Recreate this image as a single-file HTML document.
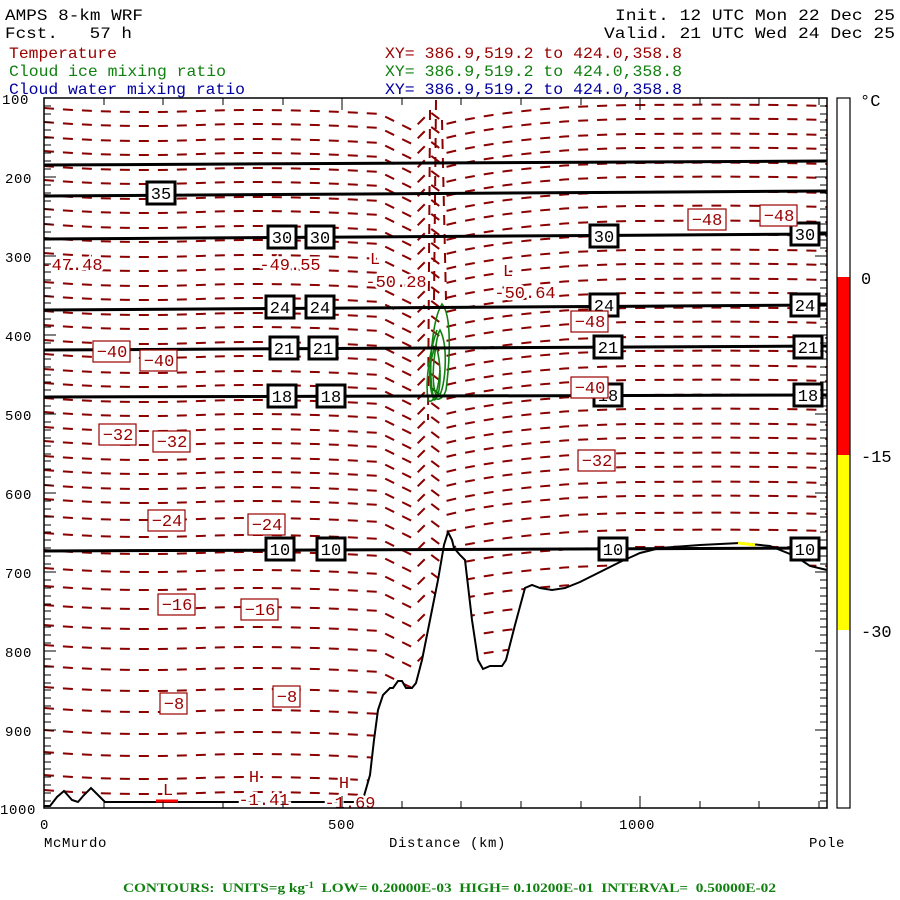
<!DOCTYPE html>
<html><head><meta charset="utf-8"><style>
html,body{margin:0;padding:0;background:#fff;}
svg{display:block;}
text{white-space:pre;}
.t{font-family:"Liberation Mono",monospace;font-size:16px;}
.a{font-family:"Liberation Mono",monospace;font-size:14px;letter-spacing:0.6px;}
.cb{font-family:"Liberation Mono",monospace;font-size:17px;}
.bl{font-family:"Liberation Mono",monospace;font-size:17px;}
.rl{font-family:"Liberation Mono",monospace;font-size:17px;fill:#9a0000;}
.hl{paint-order:stroke;stroke:#fff;stroke-width:5px;}
</style></head><body>
<svg width="900" height="900" viewBox="0 0 900 900" xmlns="http://www.w3.org/2000/svg" xml:space="preserve">
<defs>
<clipPath id="above">
<polygon points="44,98 827,98 827,570 810,566 795,556 770,546 740,543 700,545 660,548 640,553 620,562 600,572 580,582 565,588 552,590 540,588 532,585 525,588 515,625 506,660 502,666 490,666 483,669 478,660 472,620 465,560 460,555 454,548 452,540 448,532 444,545 438,580 430,620 422,660 416,683 412,688 406,688 402,681 398,681 393,688 390,688 383,695 378,710 374,740 370,775 364,796 358,802 105,802 98,795 91,788 84,795 78,802 72,800 64,791 57,797 50,806 44,806"/>
</clipPath>
<path id="c" d="M44,0 Q120,6 200,3 T380,6 L412,22 L430,4 L446,16 Q520,-2 640,-3 T827,-2" fill="none"/>
</defs>

<g class="t">
<text x="5" y="20" textLength="138" lengthAdjust="spacingAndGlyphs">AMPS 8-km WRF</text>
<text x="5" y="38" textLength="127" lengthAdjust="spacingAndGlyphs">Fcst.   57 h</text>
<text x="9" y="58" fill="#9a0000" textLength="108" lengthAdjust="spacingAndGlyphs">Temperature</text>
<text x="9" y="76" fill="#108010" textLength="217" lengthAdjust="spacingAndGlyphs">Cloud ice mixing ratio</text>
<text x="9" y="94" fill="#0000a0" textLength="236" lengthAdjust="spacingAndGlyphs">Cloud water mixing ratio</text>
<text x="615" y="20" textLength="280" lengthAdjust="spacingAndGlyphs">Init. 12 UTC Mon 22 Dec 25</text>
<text x="604" y="38" textLength="291" lengthAdjust="spacingAndGlyphs">Valid. 21 UTC Wed 24 Dec 25</text>
<text x="385" y="58" fill="#9a0000" textLength="297" lengthAdjust="spacingAndGlyphs">XY= 386.9,519.2 to 424.0,358.8</text>
<text x="385" y="76" fill="#108010" textLength="297" lengthAdjust="spacingAndGlyphs">XY= 386.9,519.2 to 424.0,358.8</text>
<text x="385" y="94" fill="#0000a0" textLength="297" lengthAdjust="spacingAndGlyphs">XY= 386.9,519.2 to 424.0,358.8</text>
</g>

<g clip-path="url(#above)" stroke="#8b0000" stroke-width="2" stroke-dasharray="10,9" fill="none">
<use href="#c" y="108"/><use href="#c" y="122"/><use href="#c" y="137"/><use href="#c" y="151"/>
<use href="#c" y="166"/><use href="#c" y="180"/><use href="#c" y="195"/><use href="#c" y="209"/>
<use href="#c" y="224"/><use href="#c" y="238"/><use href="#c" y="253"/><use href="#c" y="267"/>
<use href="#c" y="282"/><use href="#c" y="296"/><use href="#c" y="311"/><use href="#c" y="325"/>
<use href="#c" y="340"/><use href="#c" y="354"/><use href="#c" y="369"/><use href="#c" y="383"/>
<use href="#c" y="398"/><use href="#c" y="412"/><use href="#c" y="427"/><use href="#c" y="441"/>
<use href="#c" y="456"/><use href="#c" y="470"/><use href="#c" y="485"/><use href="#c" y="499"/>
<use href="#c" y="516"/><use href="#c" y="533"/><use href="#c" y="550"/><use href="#c" y="568"/>
<use href="#c" y="586"/><use href="#c" y="605"/><use href="#c" y="625"/><use href="#c" y="645"/>
<use href="#c" y="666"/><use href="#c" y="687"/><use href="#c" y="708"/><use href="#c" y="730"/>
<use href="#c" y="752"/><use href="#c" y="775"/><use href="#c" y="790"/>
<path d="M436,100 L434,300 M430,110 L428,420 M442,120 L446,300"/>
</g>

<g stroke="#108010" stroke-width="1.6" fill="none">
<path d="M442,304 C452,315 450,360 446,390 C443,400 436,402 433,395 C428,370 432,320 442,304 Z"/>
<path d="M440,330 C448,345 446,380 440,395 C434,400 432,380 434,360 C436,345 437,335 440,330 Z"/>
<path d="M436,345 C443,370 440,400 434,400 C428,385 428,362 436,345 Z"/>
<path d="M437,330 C430,350 425,380 428,400 C432,405 438,395 440,370"/>
</g>

<polyline fill="none" stroke="#000" stroke-width="2" points="827,570 810,566 795,556 770,546 740,543 700,545 660,548 640,553 620,562 600,572 580,582 565,588 552,590 540,588 532,585 525,588 515,625 506,660 502,666 490,666 483,669 478,660 472,620 465,560 460,555 454,548 452,540 448,532 444,545 438,580 430,620 422,660 416,683 412,688 406,688 402,681 398,681 393,688 390,688 383,695 378,710 374,740 370,775 364,796 358,802 105,802 98,795 91,788 84,795 78,802 72,800 64,791 57,797 50,806 44,806"/>
<line x1="156" y1="801" x2="178" y2="801" stroke="#f00" stroke-width="3"/>
<line x1="738" y1="543" x2="755" y2="545" stroke="#ff0" stroke-width="3"/>

<g stroke="#000" stroke-width="3" fill="none">
<line x1="44" y1="165" x2="827" y2="161"/>
<line x1="44" y1="196" x2="827" y2="191"/>
<line x1="44" y1="239" x2="827" y2="234"/>
<line x1="44" y1="310" x2="827" y2="305"/>
<line x1="44" y1="350" x2="827" y2="346"/>
<line x1="44" y1="397" x2="827" y2="395"/>
<line x1="44" y1="551" x2="827" y2="548"/>
</g>

<g class="bl" text-anchor="middle">
<g fill="#fff" stroke="#000" stroke-width="3">
<rect x="147" y="182" width="28" height="22"/>
<rect x="268" y="226" width="28" height="22"/><rect x="306" y="226" width="28" height="22"/><rect x="590" y="225" width="28" height="22"/><rect x="791" y="223" width="28" height="22"/>
<rect x="266" y="296" width="28" height="22"/><rect x="306" y="296" width="28" height="22"/><rect x="590" y="294" width="28" height="22"/><rect x="791" y="294" width="28" height="22"/>
<rect x="270" y="337" width="28" height="22"/><rect x="309" y="337" width="28" height="22"/><rect x="594" y="336" width="28" height="22"/><rect x="794" y="336" width="28" height="22"/>
<rect x="268" y="385" width="28" height="22"/><rect x="317" y="385" width="28" height="22"/><rect x="594" y="384" width="28" height="22"/><rect x="794" y="384" width="28" height="22"/>
<rect x="266" y="538" width="28" height="22"/><rect x="317" y="538" width="28" height="22"/><rect x="599" y="538" width="28" height="22"/><rect x="791" y="538" width="28" height="22"/>
</g>
<text x="161" y="199">35</text>
<text x="282" y="243">30</text><text x="320" y="243">30</text><text x="604" y="242">30</text><text x="805" y="240">30</text>
<text x="280" y="313">24</text><text x="320" y="313">24</text><text x="604" y="311">24</text><text x="805" y="311">24</text>
<text x="284" y="354">21</text><text x="323" y="354">21</text><text x="608" y="353">21</text><text x="808" y="353">21</text>
<text x="282" y="402">18</text><text x="331" y="402">18</text><text x="608" y="401">18</text><text x="808" y="401">18</text>
<text x="280" y="555">10</text><text x="331" y="555">10</text><text x="613" y="555">10</text><text x="805" y="555">10</text>
</g>

<g class="rl" text-anchor="middle">
<g fill="#fff" stroke="#9a0000" stroke-width="1.2">
<rect x="93" y="341" width="37" height="21"/><rect x="140" y="350" width="37" height="21"/>
<rect x="99" y="424" width="37" height="21"/><rect x="153" y="431" width="37" height="21"/>
<rect x="148" y="510" width="37" height="21"/><rect x="248" y="514" width="37" height="21"/>
<rect x="158" y="594" width="37" height="21"/><rect x="241" y="599" width="37" height="21"/>
<rect x="160" y="693" width="27" height="21"/><rect x="273" y="686" width="27" height="21"/>
<rect x="688" y="209" width="38" height="21"/><rect x="760" y="205" width="37" height="21"/>
<rect x="571" y="311" width="37" height="21"/><rect x="571" y="377" width="37" height="21"/>
<rect x="578" y="450" width="37" height="21"/>
</g>
<text x="112" y="357">−40</text><text x="159" y="366">−40</text>
<text x="118" y="440">−32</text><text x="172" y="447">−32</text>
<text x="167" y="526">−24</text><text x="267" y="530">−24</text>
<text x="177" y="610">−16</text><text x="260" y="615">−16</text>
<text x="174" y="709">−8</text><text x="287" y="702">−8</text>
<text x="707" y="225">−48</text><text x="779" y="221">−48</text>
<text x="590" y="327">−48</text><text x="590" y="393">−40</text>
<text x="597" y="466">−32</text>
</g>

<g class="rl hl" text-anchor="middle">
<text x="72" y="270">-47.48</text>
<text x="290" y="270">-49.55</text>
<text x="375" y="264">L</text><text x="396" y="287">-50.28</text>
<text x="508" y="276">L</text><text x="525" y="298">-50.64</text>
<text x="168" y="795">L</text><text x="254" y="782">H</text><text x="264" y="805">-1.41</text>
<text x="344" y="788">H</text><text x="350" y="808">-1.69</text>
</g>

<rect x="44" y="98" width="783" height="710" fill="none" stroke="#000" stroke-width="1.5"/>
<g stroke="#000" stroke-width="1">
<path d="M44,106h7M44,114h7M44,122h7M44,130h7M44,138h7M44,145h7M44,153h7M44,161h7M44,169h7M44,177h12M44,185h7M44,193h7M44,201h7M44,209h7M44,217h7M44,224h7M44,232h7M44,240h7M44,248h7M44,256h12M44,264h7M44,272h7M44,280h7M44,288h7M44,296h7M44,303h7M44,311h7M44,319h7M44,327h7M44,335h12M44,343h7M44,351h7M44,359h7M44,367h7M44,375h7M44,382h7M44,390h7M44,398h7M44,406h7M44,414h12M44,422h7M44,430h7M44,438h7M44,446h7M44,454h7M44,461h7M44,469h7M44,477h7M44,485h7M44,493h12M44,501h7M44,509h7M44,517h7M44,525h7M44,532h7M44,540h7M44,548h7M44,556h7M44,564h7M44,572h12M44,580h7M44,588h7M44,596h7M44,604h7M44,611h7M44,619h7M44,627h7M44,635h7M44,643h7M44,651h12M44,659h7M44,667h7M44,675h7M44,683h7M44,690h7M44,698h7M44,706h7M44,714h7M44,722h7M44,730h12M44,738h7M44,746h7M44,754h7M44,762h7M44,769h7M44,777h7M44,785h7M44,793h7M44,801h7"/>
<path d="M827,106h-7M827,114h-7M827,122h-7M827,130h-7M827,138h-7M827,145h-7M827,153h-7M827,161h-7M827,169h-7M827,177h-12M827,185h-7M827,193h-7M827,201h-7M827,209h-7M827,217h-7M827,224h-7M827,232h-7M827,240h-7M827,248h-7M827,256h-12M827,264h-7M827,272h-7M827,280h-7M827,288h-7M827,296h-7M827,303h-7M827,311h-7M827,319h-7M827,327h-7M827,335h-12M827,343h-7M827,351h-7M827,359h-7M827,367h-7M827,375h-7M827,382h-7M827,390h-7M827,398h-7M827,406h-7M827,414h-12M827,422h-7M827,430h-7M827,438h-7M827,446h-7M827,454h-7M827,461h-7M827,469h-7M827,477h-7M827,485h-7M827,493h-12M827,501h-7M827,509h-7M827,517h-7M827,525h-7M827,532h-7M827,540h-7M827,548h-7M827,556h-7M827,564h-7M827,572h-12M827,580h-7M827,588h-7M827,596h-7M827,604h-7M827,611h-7M827,619h-7M827,627h-7M827,635h-7M827,643h-7M827,651h-12M827,659h-7M827,667h-7M827,675h-7M827,683h-7M827,690h-7M827,698h-7M827,706h-7M827,714h-7M827,722h-7M827,730h-12M827,738h-7M827,746h-7M827,754h-7M827,762h-7M827,769h-7M827,777h-7M827,785h-7M827,793h-7M827,801h-7"/>
<path d="M104,808v-7M163,808v-7M223,808v-7M283,808v-7M342,808v-12M402,808v-7M461,808v-7M521,808v-7M581,808v-7M640,808v-12M700,808v-7M759,808v-7M819,808v-7"/>
<path d="M104,98v7M163,98v7M223,98v7M283,98v7M342,98v12M402,98v7M461,98v7M521,98v7M581,98v7M640,98v12M700,98v7M759,98v7M819,98v7"/>
</g>

<rect x="837" y="98" width="13" height="179" fill="#fff"/>
<rect x="837" y="277" width="13" height="178" fill="#f00"/>
<rect x="837" y="455" width="13" height="175" fill="#ff0"/>
<rect x="837" y="630" width="13" height="178" fill="#fff"/>
<rect x="837" y="98" width="13" height="710" fill="none" stroke="#000" stroke-width="1.2"/>
<g class="cb">
<text x="860" y="106">°C</text>
<text x="861" y="284">0</text>
<text x="861" y="462">-15</text>
<text x="861" y="637">-30</text>
</g>
<g class="a">
<text x="2" y="104">100</text><text x="5" y="183">200</text><text x="5" y="262">300</text><text x="5" y="341">400</text><text x="5" y="420">500</text><text x="5" y="499">600</text><text x="5" y="578">700</text><text x="5" y="657">800</text><text x="5" y="736">900</text><text x="0" y="814">1000</text>
<text x="40" y="829">0</text><text x="328" y="829">500</text><text x="619" y="829">1000</text>
<text x="44" y="847">McMurdo</text><text x="389" y="847">Distance (km)</text><text x="809" y="847">Pole</text>
</g>
<text x="123" y="892" font-family="Liberation Serif,serif" font-size="13" font-weight="bold" fill="#108010" textLength="653" lengthAdjust="spacingAndGlyphs">CONTOURS:  UNITS=g kg<tspan dy="-4" font-size="9">-1</tspan><tspan dy="4">  LOW= 0.20000E-03  HIGH= 0.10200E-01  INTERVAL=  0.50000E-02</tspan></text>
</svg>
</body></html>
